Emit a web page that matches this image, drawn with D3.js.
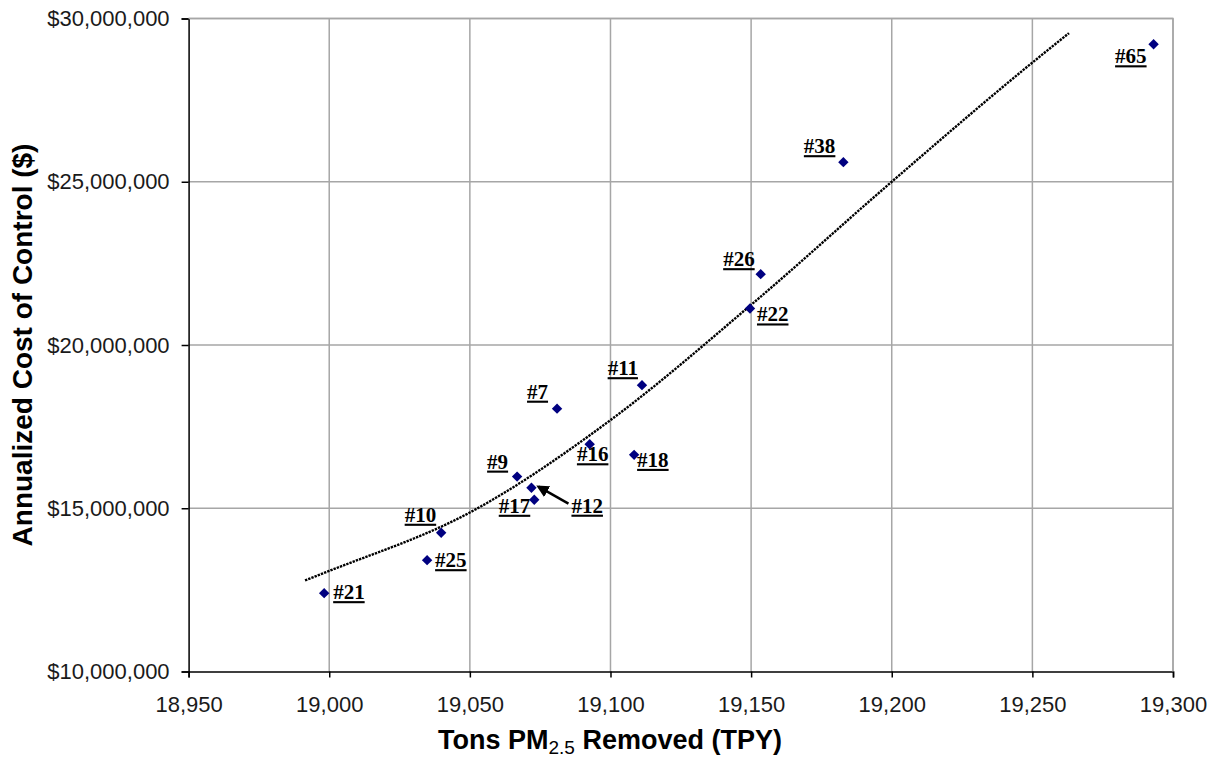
<!DOCTYPE html>
<html>
<head>
<meta charset="utf-8">
<script src="https://cdn.jsdelivr.net/npm/d3@7"></script>
<style>
    body { margin: 0; background: #fff; }
    .tick text { font-family: "Liberation Sans", Arial, sans-serif; font-size: 22px; fill: #1a1a1a; }
    .axis-title { font-family: "Liberation Sans", Arial, sans-serif; font-weight: bold; fill: #000; }
    .pt-label { font-family: "Liberation Serif", "Times New Roman", serif; font-weight: bold; font-size: 21px; text-decoration: underline; fill: #000; }
</style>
</head>
<body>
<div class="chart"></div>
<script>
var svgWidth = 1217;
var svgHeight = 766;

var margin = {
    top: 18.5,
    right: 44,
    bottom: 94.5,
    left: 188.6
};

var width = svgWidth - margin.left - margin.right;
var height = svgHeight - margin.top - margin.bottom;

// data
var pointIds = ["#21", "#25", "#10", "#9", "#12", "#17", "#7", "#16", "#18", "#11", "#22", "#26", "#38", "#65"];
var tonsRemoved = [18998.2, 19034.8, 19039.8, 19066.8, 19071.9, 19072.9, 19081.0, 19092.6, 19108.4, 19111.2, 19149.6, 19153.4, 19182.8, 19293.1];
var annualCost = [12400000, 13410000, 14250000, 15970000, 15630000, 15260000, 18050000, 16960000, 16635000, 18770000, 21120000, 22170000, 25600000, 29210000];

// trendline as traced on the picture
var trendTons = [18991.4, 19000, 19050, 19100, 19150, 19200, 19250, 19263];
var trendCost = [12790000, 13080000, 14870000, 17700000, 21230000, 25000000, 28650000, 29550000];

var xTicks = [18950, 19000, 19050, 19100, 19150, 19200, 19250, 19300];
var yTicks = [10000000, 15000000, 20000000, 25000000, 30000000];

// label placement next to each point: [dx, dy, anchor]
var labelPlace = [
    [9, 6, "start"], [8, 7, "start"], [-5, -11, "end"], [-9, -8, "end"],
    [40, 25, "start"], [-4, 13, "end"], [-9, -10, "end"], [3, 17, "middle"],
    [3, 12, "start"], [-4, -10, "end"], [7, 13, "start"], [-6, -8, "end"],
    [-8, -9, "end"], [-7, 19, "end"]
];

var svg = d3
    .select(".chart")
    .append("svg")
    .attr("width", svgWidth)
    .attr("height", svgHeight);

svg.append("defs").append("marker")
    .attr("id", "arrowhead")
    .attr("viewBox", "0 0 10 10")
    .attr("refX", 8)
    .attr("refY", 5)
    .attr("markerWidth", 5)
    .attr("markerHeight", 5)
    .attr("orient", "auto")
    .append("path")
    .attr("d", "M0,0 L10,5 L0,10 Z")
    .attr("fill", "#000");

var chartGroup = svg.append("g")
    .attr("transform", `translate(${margin.left}, ${margin.top})`);

var xLinearScale = d3.scaleLinear()
    .domain([18950, 19300])
    .range([0, width]);

var yLinearScale = d3.scaleLinear()
    .domain([10000000, 30000000])
    .range([height, 0]);

// gridlines
chartGroup.append("g")
    .selectAll("line")
    .data(xTicks.slice(1))
    .enter()
    .append("line")
    .attr("x1", d => xLinearScale(d))
    .attr("x2", d => xLinearScale(d))
    .attr("y1", 0)
    .attr("y2", height)
    .attr("stroke", "#a6a6a6")
    .attr("stroke-width", 1.5);

chartGroup.append("g")
    .selectAll("line")
    .data(yTicks.slice(1))
    .enter()
    .append("line")
    .attr("x1", 0)
    .attr("x2", width)
    .attr("y1", d => yLinearScale(d))
    .attr("y2", d => yLinearScale(d))
    .attr("stroke", "#a6a6a6")
    .attr("stroke-width", 1.5);

// axes
var bottomAxis = d3.axisBottom(xLinearScale)
    .tickValues(xTicks)
    .tickSize(6)
    .tickPadding(19)
    .tickFormat(d3.format(","));

var leftAxis = d3.axisLeft(yLinearScale)
    .tickValues(yTicks)
    .tickSize(7)
    .tickPadding(12)
    .tickFormat(d => "$" + d3.format(",")(d));

var xAxis = chartGroup.append("g")
    .classed("x-axis", true)
    .attr("transform", `translate(0, ${height})`)
    .call(bottomAxis);

var yAxis = chartGroup.append("g")
    .classed("y-axis", true)
    .call(leftAxis);

[xAxis, yAxis].forEach(function(ax) {
    ax.select(".domain").attr("stroke", "#000").attr("stroke-width", 1.5);
    ax.selectAll(".tick line").attr("stroke", "#000").attr("stroke-width", 1.5);
});

// trendline
var trendData = trendTons.map((t, i) => [t, trendCost[i]]);
var trendLine = d3.line()
    .x(d => xLinearScale(d[0]))
    .y(d => yLinearScale(d[1]))
    .curve(d3.curveMonotoneX);

chartGroup.append("path")
    .datum(trendData)
    .attr("d", trendLine)
    .attr("fill", "none")
    .attr("stroke", "#000")
    .attr("stroke-width", 2.4)
    .attr("stroke-dasharray", "2.4,1");

// points
var pointData = pointIds.map((id, i) => ({ id: id, tons: tonsRemoved[i], cost: annualCost[i], place: labelPlace[i] }));

chartGroup.selectAll(".pt")
    .data(pointData)
    .enter()
    .append("path")
    .classed("pt", true)
    .attr("d", d3.symbol().type(d3.symbolSquare).size(54))
    .attr("transform", d => `translate(${xLinearScale(d.tons)}, ${yLinearScale(d.cost)}) rotate(45)`)
    .attr("fill", "#000080");

chartGroup.selectAll(".pt-label")
    .data(pointData)
    .enter()
    .append("text")
    .classed("pt-label", true)
    .attr("x", d => xLinearScale(d.tons) + d.place[0])
    .attr("y", d => yLinearScale(d.cost) + d.place[1])
    .attr("text-anchor", d => d.place[2])
    .text(d => d.id);

// arrow from the #12 label to its point
var p12 = pointData[4];
chartGroup.append("line")
    .attr("x1", xLinearScale(p12.tons) + 37)
    .attr("y1", yLinearScale(p12.cost) + 16)
    .attr("x2", xLinearScale(p12.tons) + 7)
    .attr("y2", yLinearScale(p12.cost) - 1)
    .attr("stroke", "#000")
    .attr("stroke-width", 2.5)
    .attr("marker-end", "url(#arrowhead)");

// plot border top/right
chartGroup.append("path")
    .attr("d", `M0,0 H${width} V${height}`)
    .attr("fill", "none")
    .attr("stroke", "#a6a6a6")
    .attr("stroke-width", 1.5);

// axis titles
var xTitle = svg.append("text")
    .classed("axis-title", true)
    .attr("x", 610)
    .attr("y", 749)
    .attr("text-anchor", "middle")
    .style("font-size", "27px");
xTitle.append("tspan").text("Tons PM");
xTitle.append("tspan").attr("dy", 5).style("font-size", "19px").style("font-weight", "normal").text("2.5");
xTitle.append("tspan").attr("dy", -5).text(" Removed (TPY)");

svg.append("text")
    .classed("axis-title", true)
    .attr("transform", "translate(32, 345) rotate(-90)")
    .attr("text-anchor", "middle")
    .style("font-size", "28px")
    .text("Annualized Cost of Control ($)");
</script>
</body>
</html>
